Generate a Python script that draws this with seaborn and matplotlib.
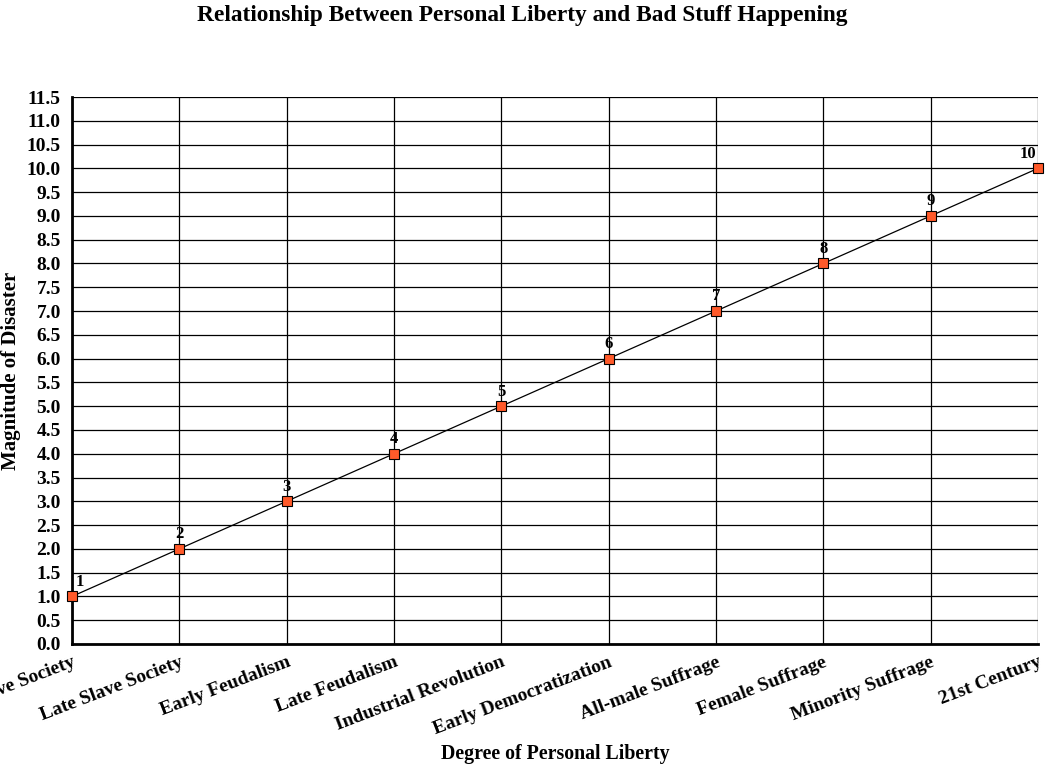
import matplotlib
matplotlib.use("Agg")
import matplotlib.pyplot as plt
import seaborn as sns
import pandas as pd

# Datos del gráfico
etapas = ["Early Slave Society", "Late Slave Society", "Early Feudalism", "Late Feudalism",
          "Industrial Revolution", "Early Democratization", "All-male Suffrage",
          "Female Suffrage", "Minority Suffrage", "21st Century"]
desastre = [1, 2, 3, 4, 5, 6, 7, 8, 9, 10]

df = pd.DataFrame({"pos": range(len(etapas)), "valor": desastre})

sns.set_style("white")
plt.rcParams["font.family"] = ["Liberation Serif", "DejaVu Serif"]
plt.rcParams["font.weight"] = "bold"
for clave in ["text.color", "axes.labelcolor", "xtick.color", "ytick.color"]:
    plt.rcParams[clave] = "black"

fig = plt.figure(figsize=(10.45, 7.68), dpi=100)
ax = fig.add_axes([72 / 1045, 1 - 644 / 768, (1038 - 72) / 1045, (644 - 97) / 768])

sns.lineplot(data=df, x="pos", y="valor", ax=ax, color="black", linewidth=0.9,
             marker="s", markersize=7, markerfacecolor="#ff5a2a",
             markeredgecolor="black", markeredgewidth=0.8, clip_on=False, zorder=3)

# Etiquetas de datos (las de los extremos se desplazan hacia dentro)
for i, (x, y) in enumerate(zip(df["pos"], df["valor"])):
    dx = 0.07 if i == 0 else (-0.09 if i == len(etapas) - 1 else 0)
    ax.text(x + dx, y + 0.14, str(y), ha="center", va="bottom", fontsize=12, fontweight="bold")

ax.set_xlim(0, len(etapas) - 1)
ax.set_ylim(0, 11.5)
ax.set_yticks([i * 0.5 for i in range(24)])
ax.set_yticklabels([f"{i * 0.5:.1f}" for i in range(24)], fontsize=14, fontweight="bold")
ax.set_xticks(range(len(etapas)))
ax.set_xticklabels(etapas, rotation=21, ha="right", rotation_mode="anchor",
                   fontsize=14, fontweight="bold")

ax.grid(True, color="black", linewidth=0.9)
ax.set_axisbelow(True)
for lado in ["top", "right"]:
    ax.spines[lado].set_visible(False)
for lado in ["left", "bottom"]:
    ax.spines[lado].set_linewidth(2)
    ax.spines[lado].set_color("black")
ax.tick_params(axis="both", length=5, width=1, color="black", direction="out")
ax.tick_params(axis="x", pad=2)
ax.tick_params(axis="y", pad=3)

ax.set_xlabel("")
ax.set_ylabel("Magnitude of Disaster", fontsize=15, fontweight="bold", labelpad=4)
fig.text(555 / 1045, 1 - 754 / 768, "Degree of Personal Liberty",
         ha="center", va="center", fontsize=14.3, fontweight="bold")
fig.text(0.5, 1 - 16 / 768, "Relationship Between Personal Liberty and Bad Stuff Happening",
         ha="center", va="center", fontsize=16.8, fontweight="bold")

fig.savefig("out.png", dpi=100)
